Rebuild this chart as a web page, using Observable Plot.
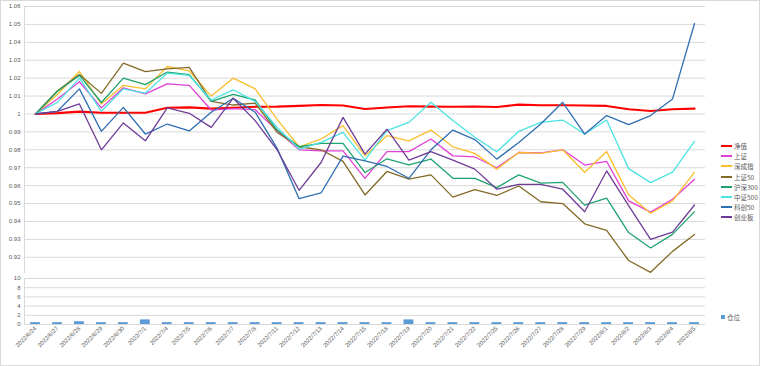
<!DOCTYPE html>
<html><head><meta charset="utf-8">
<script src="https://cdn.jsdelivr.net/npm/d3@7"></script>
<script src="https://cdn.jsdelivr.net/npm/@observablehq/plot@0.6"></script>
<style>
body{margin:0;background:#fff;}
#chart{position:relative;width:760px;height:366px;overflow:hidden;font-family:"Liberation Sans",Arial,sans-serif;background:#fff;}
#topPlot,#bottomPlot{position:absolute;left:0;}
#topPlot{top:0}
#bottomPlot{top:272px}
#border{position:absolute;left:0;top:0;width:760px;height:366px;box-sizing:border-box;border:1px solid #d9d9d9;pointer-events:none;}
.legend{position:absolute;left:721px;font-family:"Noto Sans CJK SC",sans-serif;font-size:6.5px;color:#595959;}
.item{display:flex;align-items:center;height:10.2px;white-space:nowrap;}
.sw{width:11px;height:2px;margin-right:2px;}
.sq{width:4px;height:4px;margin-right:2px;}
</style></head>
<body>
<div id="chart">
  <div id="topPlot"></div>
  <div id="bottomPlot"></div>
  <div class="legend" id="legTop" style="top:141px"></div>
  <div class="legend" id="legBot" style="top:312px"></div>
  <div id="border"></div>
</div>
<script>
const dates = ["2022/6/24","2022/6/27","2022/6/28","2022/6/29","2022/6/30","2022/7/1","2022/7/4","2022/7/5","2022/7/6","2022/7/7","2022/7/8","2022/7/11","2022/7/12","2022/7/13","2022/7/14","2022/7/15","2022/7/18","2022/7/19","2022/7/20","2022/7/21","2022/7/22","2022/7/25","2022/7/26","2022/7/27","2022/7/28","2022/7/29","2022/8/1","2022/8/2","2022/8/3","2022/8/4","2022/8/5"];

const jingzhi = [1.000,1.0005,1.0013,1.0007,1.0007,1.0007,1.0035,1.0037,1.003,1.0035,1.004,1.0041,1.0045,1.005,1.0047,1.0028,1.0036,1.0043,1.0041,1.004,1.0042,1.0039,1.0052,1.0049,1.0049,1.0047,1.0045,1.0026,1.0017,1.0026,1.003];
const shangzheng = [1.000,1.0084,1.018,1.0034,1.0146,1.0112,1.0168,1.016,1.0022,1.003,1.0024,0.9907,0.980,0.9794,0.9794,0.964,0.979,0.979,0.986,0.9766,0.976,0.970,0.9785,0.9783,0.980,0.9715,0.9735,0.9515,0.9452,0.9524,0.9635];
const shenchengzhi = [1.000,1.011,1.0237,1.0056,1.016,1.014,1.0265,1.024,1.010,1.020,1.014,0.997,0.9817,0.986,0.9935,0.9766,0.9879,0.985,0.991,0.9817,0.978,0.9692,0.9785,0.978,0.980,0.9675,0.979,0.9549,0.9446,0.9515,0.9675];
const sz50 = [1.000,1.013,1.022,1.0115,1.0284,1.0237,1.0252,1.026,1.007,1.005,1.006,0.9897,0.9817,0.980,0.9735,0.9548,0.9679,0.9636,0.966,0.9536,0.9578,0.9545,0.9598,0.951,0.950,0.9387,0.935,0.9182,0.9116,0.9233,0.9327];
const hs300 = [1.000,1.0127,1.0215,1.0064,1.020,1.0164,1.0234,1.022,1.007,1.011,1.0078,0.991,0.9817,0.9836,0.9836,0.9673,0.975,0.9716,0.9748,0.9641,0.9641,0.9589,0.966,0.9614,0.9618,0.9491,0.953,0.9338,0.9252,0.9328,0.9455];
const zz500 = [1.000,1.0065,1.020,1.0015,1.014,1.0116,1.0228,1.0215,1.0078,1.0135,1.007,0.9925,0.9804,0.9841,0.9897,0.9742,0.9907,0.9953,1.0065,0.9963,0.987,0.9789,0.9903,0.9953,0.9966,0.9888,0.9966,0.9695,0.9617,0.9675,0.9847];
const kc50 = [1.000,1.0015,1.014,0.9903,1.0037,0.9888,0.9944,0.9905,1.001,1.0088,1.001,0.9808,0.9527,0.9559,0.9765,0.9738,0.9707,0.9641,0.9800,0.9910,0.9857,0.9748,0.9841,0.9944,1.0065,0.9888,0.9991,0.994,0.9991,1.0084,1.0505];
const cyb = [1.000,1.0015,1.0056,0.980,0.995,0.985,1.0034,1.0004,0.9925,1.0088,0.9963,0.980,0.9574,0.9729,0.9981,0.9776,0.9915,0.9742,0.979,0.9742,0.9692,0.958,0.9607,0.9607,0.958,0.9454,0.9682,0.9488,0.9300,0.9340,0.9492];
const cangwei = [0.4,0.4,0.6,0.4,0.4,1.0,0.4,0.4,0.4,0.4,0.4,0.4,0.4,0.4,0.4,0.4,0.4,1.0,0.4,0.4,0.4,0.4,0.4,0.4,0.4,0.4,0.4,0.4,0.4,0.4,0.4];

const seriesNames = ["净值","上证","深成指","上证50","沪深300","中证500","科创50","创业板"];
const seriesValues = [jingzhi, shangzheng, shenchengzhi, sz50, hs300, zz500, kc50, cyb];
const seriesColors = ["#FF0000","#E040D6","#F9BE2E","#836A26","#1FA36E","#4DE3E3","#2F6FB2","#6E3C96"];
const seriesWidths = [2.1,1.3,1.3,1.3,1.3,1.3,1.3,1.3];
const yTicks = [0.92,0.93,0.94,0.95,0.96,0.97,0.98,0.99,1.00,1.01,1.02,1.03,1.04,1.05,1.06];
const barTicks = [0,2,4,6,8,10];
const barName = "仓位";
const barColor = "#5B9BD5";

const rows = seriesNames.flatMap((n, k) => seriesValues[k].map((v, i) => ({date: dates[i], value: v, name: n})));
const font = {background:"transparent", fontFamily:"'Liberation Sans', Arial, sans-serif", fontSize:"6px", color:"#595959"};

const topChart = Plot.plot({
  width: 760, height: 274,
  marginLeft: 24, marginRight: 55, marginTop: 6, marginBottom: 2,
  style: font,
  x: {type: "point", domain: dates, padding: 0.5, round: false, axis: null},
  y: {domain: [0.9115, 1.06], ticks: yTicks, tickFormat: d => d === 1 ? "1" : d.toFixed(2), tickSize: 0, tickPadding: 4, label: null},
  marks: [
    Plot.ruleY(yTicks, {stroke: "#d9d9d9", strokeWidth: 1}),
    Plot.frame({anchor: "left", stroke: "#d9d9d9"}),
    ...seriesNames.map((n, k) => Plot.line(rows.filter(r => r.name === n), {x: "date", y: "value", stroke: seriesColors[k], strokeWidth: seriesWidths[k], strokeLinejoin: "round"}))
  ]
});
document.getElementById("topPlot").append(topChart);

const barRows = cangwei.map((v, i) => ({date: dates[i], value: v}));
const bottomChart = Plot.plot({
  width: 760, height: 94,
  marginLeft: 24, marginRight: 55, marginTop: 6, marginBottom: 42,
  style: font,
  x: {type: "band", domain: dates, paddingInner: 0.55, paddingOuter: 0.275, align: 0.5, round: false, tickRotate: -45, tickSize: 0, tickPadding: 3, label: null},
  y: {domain: [0, 10], ticks: barTicks, tickSize: 0, tickPadding: 4, label: null},
  marks: [
    Plot.ruleY(barTicks, {stroke: "#d9d9d9", strokeWidth: 1}),
    Plot.frame({anchor: "left", stroke: "#d9d9d9"}),
    Plot.barY(barRows, {x: "date", y: "value", fill: barColor})
  ]
});
document.getElementById("bottomPlot").append(bottomChart);

const legTop = document.getElementById("legTop");
seriesNames.forEach((n, k) => {
  const d = document.createElement("div"); d.className = "item";
  const s = document.createElement("span"); s.className = "sw"; s.style.background = seriesColors[k];
  const t = document.createElement("span"); t.textContent = n;
  d.append(s, t); legTop.append(d);
});
const legBot = document.getElementById("legBot");
{
  const d = document.createElement("div"); d.className = "item";
  const s = document.createElement("span"); s.className = "sq"; s.style.background = barColor;
  const t = document.createElement("span"); t.textContent = barName;
  d.append(s, t); legBot.append(d);
}
</script>
</body></html>
